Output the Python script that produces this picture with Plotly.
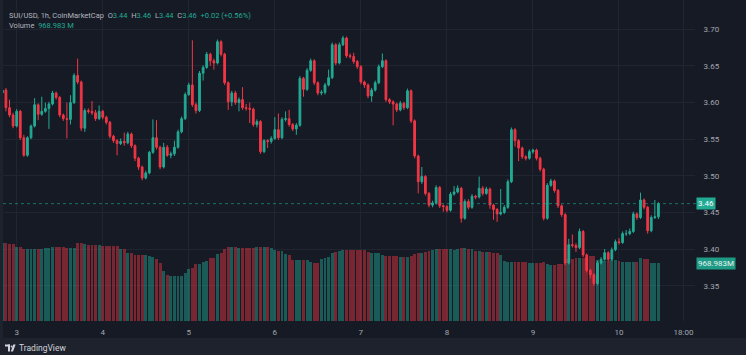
import plotly.graph_objects as go
import pandas as pd

# ---------------- data ----------------
first_candle = "2025-02-02 20:00"
n_candles = 184

opens = [3.613, 3.617, 3.593, 3.583, 3.568, 3.588, 3.552, 3.528, 3.552, 3.568,
         3.597, 3.584, 3.588, 3.592, 3.598, 3.613, 3.607, 3.583, 3.578, 3.577,
         3.600, 3.637, 3.628, 3.565, 3.589, 3.588, 3.586, 3.578, 3.588, 3.580,
         3.573, 3.554, 3.548, 3.544, 3.547, 3.545, 3.557, 3.541, 3.524, 3.512,
         3.497, 3.504, 3.532, 3.552, 3.539, 3.512, 3.539, 3.528, 3.530, 3.539,
         3.560, 3.578, 3.611, 3.624, 3.597, 3.589, 3.640, 3.648, 3.666, 3.657,
         3.654, 3.683, 3.666, 3.627, 3.601, 3.613, 3.600, 3.604, 3.593, 3.592,
         3.591, 3.570, 3.574, 3.533, 3.548, 3.547, 3.551, 3.563, 3.552, 3.577,
         3.578, 3.570, 3.564, 3.569, 3.633, 3.618, 3.644, 3.657, 3.627, 3.613,
         3.614, 3.624, 3.634, 3.679, 3.654, 3.679, 3.688, 3.664, 3.663, 3.656,
         3.649, 3.628, 3.624, 3.609, 3.617, 3.627, 3.649, 3.657, 3.604, 3.601,
         3.598, 3.590, 3.599, 3.593, 3.616, 3.575, 3.527, 3.492, 3.499, 3.476,
         3.460, 3.463, 3.484, 3.459, 3.458, 3.453, 3.475, 3.478, 3.483, 3.442,
         3.465, 3.457, 3.472, 3.471, 3.483, 3.476, 3.482, 3.460, 3.454, 3.448,
         3.450, 3.457, 3.492, 3.563, 3.548, 3.538, 3.526, 3.524, 3.533, 3.535,
         3.524, 3.509, 3.442, 3.487, 3.493, 3.480, 3.459, 3.447, 3.381, 3.406,
         3.405, 3.402, 3.424, 3.392, 3.371, 3.365, 3.353, 3.381, 3.386, 3.395,
         3.386, 3.399, 3.410, 3.409, 3.421, 3.421, 3.424, 3.448, 3.443, 3.467,
         3.457, 3.425, 3.443, 3.444]

closes = [3.617, 3.593, 3.583, 3.568, 3.588, 3.552, 3.528, 3.552, 3.568, 3.597,
          3.584, 3.588, 3.592, 3.598, 3.613, 3.607, 3.583, 3.578, 3.577, 3.600,
          3.637, 3.628, 3.565, 3.589, 3.588, 3.586, 3.578, 3.588, 3.580, 3.573,
          3.554, 3.548, 3.544, 3.547, 3.545, 3.557, 3.541, 3.524, 3.512, 3.497,
          3.504, 3.532, 3.552, 3.539, 3.512, 3.539, 3.528, 3.530, 3.539, 3.560,
          3.578, 3.611, 3.624, 3.597, 3.589, 3.640, 3.648, 3.666, 3.657, 3.654,
          3.683, 3.666, 3.627, 3.601, 3.613, 3.600, 3.604, 3.593, 3.592, 3.591,
          3.570, 3.574, 3.533, 3.548, 3.547, 3.551, 3.563, 3.552, 3.577, 3.578,
          3.570, 3.564, 3.569, 3.633, 3.618, 3.644, 3.657, 3.627, 3.613, 3.614,
          3.624, 3.634, 3.679, 3.654, 3.679, 3.688, 3.664, 3.663, 3.656, 3.649,
          3.628, 3.624, 3.609, 3.617, 3.627, 3.649, 3.657, 3.604, 3.601, 3.598,
          3.590, 3.599, 3.593, 3.616, 3.575, 3.527, 3.492, 3.499, 3.476, 3.460,
          3.463, 3.484, 3.459, 3.458, 3.453, 3.475, 3.478, 3.483, 3.442, 3.465,
          3.457, 3.472, 3.471, 3.483, 3.476, 3.482, 3.460, 3.454, 3.448, 3.450,
          3.457, 3.492, 3.563, 3.548, 3.538, 3.526, 3.524, 3.533, 3.535, 3.524,
          3.509, 3.442, 3.487, 3.493, 3.480, 3.459, 3.447, 3.381, 3.406, 3.405,
          3.402, 3.424, 3.392, 3.371, 3.365, 3.353, 3.381, 3.386, 3.395, 3.386,
          3.399, 3.410, 3.409, 3.421, 3.421, 3.424, 3.448, 3.443, 3.467, 3.457,
          3.425, 3.443, 3.444, 3.462]

highs = [3.620, 3.620, 3.604, 3.586, 3.591, 3.590, 3.556, 3.554, 3.570, 3.606,
         3.599, 3.608, 3.600, 3.601, 3.616, 3.615, 3.609, 3.585, 3.600, 3.610,
         3.640, 3.660, 3.630, 3.592, 3.592, 3.602, 3.590, 3.596, 3.590, 3.582,
         3.575, 3.556, 3.550, 3.551, 3.559, 3.560, 3.559, 3.543, 3.526, 3.514,
         3.507, 3.534, 3.577, 3.576, 3.541, 3.545, 3.542, 3.533, 3.548, 3.563,
         3.581, 3.614, 3.627, 3.685, 3.600, 3.643, 3.651, 3.669, 3.668, 3.660,
         3.686, 3.685, 3.668, 3.629, 3.616, 3.616, 3.607, 3.621, 3.598, 3.600,
         3.593, 3.577, 3.576, 3.550, 3.550, 3.554, 3.580, 3.585, 3.580, 3.588,
         3.590, 3.572, 3.572, 3.636, 3.635, 3.647, 3.660, 3.659, 3.629, 3.617,
         3.627, 3.645, 3.682, 3.681, 3.682, 3.691, 3.690, 3.667, 3.668, 3.658,
         3.651, 3.630, 3.626, 3.620, 3.630, 3.652, 3.667, 3.659, 3.606, 3.603,
         3.600, 3.602, 3.601, 3.619, 3.618, 3.577, 3.529, 3.512, 3.501, 3.478,
         3.466, 3.487, 3.486, 3.461, 3.460, 3.478, 3.486, 3.487, 3.485, 3.468,
         3.468, 3.475, 3.474, 3.499, 3.486, 3.485, 3.484, 3.462, 3.456, 3.482,
         3.460, 3.495, 3.566, 3.565, 3.550, 3.540, 3.528, 3.536, 3.537, 3.537,
         3.526, 3.511, 3.490, 3.496, 3.495, 3.482, 3.461, 3.449, 3.414, 3.420,
         3.408, 3.428, 3.426, 3.394, 3.373, 3.367, 3.384, 3.389, 3.400, 3.397,
         3.402, 3.413, 3.415, 3.424, 3.426, 3.428, 3.451, 3.450, 3.477, 3.469,
         3.459, 3.446, 3.467, 3.464]

lows = [3.610, 3.588, 3.580, 3.565, 3.566, 3.549, 3.526, 3.526, 3.550, 3.566,
        3.576, 3.582, 3.586, 3.564, 3.596, 3.604, 3.580, 3.575, 3.551, 3.570,
        3.598, 3.625, 3.561, 3.560, 3.585, 3.583, 3.575, 3.576, 3.577, 3.570,
        3.551, 3.545, 3.528, 3.542, 3.541, 3.543, 3.538, 3.520, 3.508, 3.494,
        3.495, 3.502, 3.530, 3.536, 3.509, 3.510, 3.526, 3.524, 3.527, 3.537,
        3.558, 3.576, 3.609, 3.594, 3.585, 3.587, 3.630, 3.646, 3.650, 3.645,
        3.652, 3.663, 3.624, 3.590, 3.595, 3.597, 3.588, 3.590, 3.589, 3.572,
        3.567, 3.566, 3.530, 3.531, 3.538, 3.544, 3.549, 3.549, 3.550, 3.574,
        3.567, 3.561, 3.556, 3.567, 3.608, 3.616, 3.642, 3.624, 3.610, 3.610,
        3.611, 3.622, 3.632, 3.651, 3.652, 3.677, 3.661, 3.660, 3.653, 3.646,
        3.625, 3.620, 3.606, 3.601, 3.615, 3.625, 3.647, 3.601, 3.598, 3.569,
        3.587, 3.588, 3.590, 3.591, 3.572, 3.524, 3.476, 3.489, 3.473, 3.457,
        3.457, 3.461, 3.456, 3.451, 3.450, 3.451, 3.473, 3.476, 3.436, 3.440,
        3.454, 3.455, 3.468, 3.469, 3.473, 3.474, 3.455, 3.440, 3.437, 3.446,
        3.448, 3.455, 3.490, 3.540, 3.520, 3.523, 3.521, 3.522, 3.530, 3.521,
        3.506, 3.439, 3.440, 3.485, 3.477, 3.456, 3.444, 3.378, 3.379, 3.402,
        3.396, 3.400, 3.389, 3.368, 3.360, 3.350, 3.351, 3.379, 3.384, 3.383,
        3.384, 3.397, 3.406, 3.407, 3.418, 3.419, 3.422, 3.440, 3.441, 3.454,
        3.421, 3.423, 3.441, 3.441]

volume_m = [1305, 1305, 1300, 1300, 1250, 1240,
            1215, 1210, 1212, 1208, 1210, 1215, 1218,
            1230, 1235, 1240, 1238, 1235, 1232, 1230, 1228,
            1310, 1305, 1295, 1278, 1276, 1272, 1270,
            1262, 1260, 1258, 1256, 1252, 1215, 1205, 1150, 1140,
            1112, 1108, 1106, 1104, 1100, 1075, 1045, 975, 840,
            765, 756, 752, 756, 762, 800, 880, 895, 950, 965,
            990, 1000, 1050, 1065, 1130, 1150, 1215, 1235, 1245, 1250,
            1230, 1226, 1222, 1220, 1225, 1235, 1240, 1238, 1236, 1232,
            1190, 1175, 1170, 1130, 1115, 1030, 1020, 1025, 1030, 1028,
            990, 982, 980, 1040, 1060, 1075, 1150, 1165, 1175,
            1195, 1198, 1200, 1196, 1190, 1188, 1185, 1165, 1150, 1140, 1140,
            1105, 1100, 1098, 1100, 1095, 1080, 1080, 1082, 1085,
            1125, 1140, 1150, 1165, 1175,
            1200, 1205, 1205, 1204, 1206, 1203, 1200, 1205,
            1218, 1220, 1215, 1212,
            1175, 1170, 1165, 1160, 1155, 1150, 1145, 1108,
            1000, 990, 985, 990, 995, 990, 985, 975, 972, 970, 975, 985,
            950, 945, 948, 952, 950, 1040, 1045, 1042,
            1063, 1065, 1060, 1075, 1090, 1085,
            1018, 1015, 1016, 1012, 1018, 1020, 1016,
            990, 992, 988, 990, 992, 1050, 1048, 1045,
            975, 972, 968.983]

price_ticks = [3.35, 3.40, 3.45, 3.50, 3.55, 3.60, 3.65, 3.70]
price_tick_text = ["3.35", "3.40", "3.45", "3.50", "3.55", "3.60", "3.65", "3.70"]
time_ticks = ["2025-02-03 00:00", "2025-02-04 00:00", "2025-02-05 00:00", "2025-02-06 00:00",
              "2025-02-07 00:00", "2025-02-08 00:00", "2025-02-09 00:00", "2025-02-10 00:00",
              "2025-02-10 18:00"]
time_tick_text = ["3", "4", "5", "6", "7", "8", "9", "10", "18:00"]

last_price_label = "3.46"
last_volume_label = "968.983M"

# ---------------- style ----------------
W, H = 746, 355
ML, MR, MT, MB = 3, 51, 0, 34
PW, PH = W - ML - MR, H - MT - MB

UP = "#22ab94"
DOWN = "#f23645"
UP_VOL = "rgba(34,171,148,0.45)"
DOWN_VOL = "rgba(242,54,69,0.45)"
BG = "#161a25"
FRAME = "#1e222d"
GRID = "#212532"
TXT = "#b2b5be"
AXTXT = "#a3a6af"
FONT = "Roboto"


def px(x):
    return (x - ML) / PW


def py(y):
    return (H - MB - y) / PH


times = pd.date_range(first_candle, periods=n_candles, freq="h")
vol_colors = [UP_VOL if c >= o else DOWN_VOL for o, c in zip(opens, closes)]

fig = go.Figure()
fig.add_trace(go.Bar(
    x=times, y=volume_m, marker=dict(color=vol_colors, line=dict(width=0)),
    width=0.82 * 3600 * 1000, yaxis="y", hoverinfo="skip", showlegend=False))
fig.add_trace(go.Candlestick(
    x=times, open=opens, high=highs, low=lows, close=closes, yaxis="y2",
    increasing=dict(line=dict(color=UP, width=1), fillcolor=UP),
    decreasing=dict(line=dict(color=DOWN, width=1), fillcolor=DOWN),
    whiskerwidth=0, showlegend=False))

vol_top = 968.983 * PH / 57.7

fig.update_layout(
    width=W, height=H,
    margin=dict(l=ML, r=MR, t=MT, b=MB, pad=0),
    paper_bgcolor=FRAME, plot_bgcolor=BG,
    font=dict(family=FONT, color=AXTXT, size=8),
    bargap=0, showlegend=False, hovermode=False,
    xaxis=dict(type="date", range=["2025-02-02 20:11", "2025-02-10 21:12"],
               tickmode="array", tickvals=time_ticks, ticktext=time_tick_text,
               showgrid=True, gridcolor=GRID, gridwidth=1, zeroline=False,
               showline=False, ticks="outside", ticklen=3, tickcolor="rgba(0,0,0,0)",
               tickfont=dict(size=8, color=AXTXT),
               rangeslider=dict(visible=False), fixedrange=True),
    yaxis=dict(range=[0, vol_top], visible=False, fixedrange=True),
    yaxis2=dict(overlaying="y", side="right", range=[3.3018, 3.740],
                tickmode="array", tickvals=price_ticks, ticktext=price_tick_text,
                showgrid=True, gridcolor=GRID, gridwidth=1, zeroline=False,
                showline=False, ticks="outside", ticklen=6, tickcolor="rgba(0,0,0,0)",
                tickfont=dict(size=8, color=AXTXT), fixedrange=True),
)

shapes = [
    # chart panel
    dict(type="rect", xref="paper", yref="paper", x0=px(3), x1=px(W + 5),
         y0=py(338), y1=py(-5), fillcolor=BG, line=dict(width=0), layer="below"),
    # last-price dotted line
    dict(type="line", xref="paper", yref="y2", x0=0, x1=px(697), y0=closes[-1], y1=closes[-1],
         line=dict(color="rgba(34,171,148,0.6)", width=1, dash="dot"), layer="above"),
    # TradingView logo (glyph)
    dict(type="rect", xref="paper", yref="paper", x0=px(5), x1=px(10), y0=py(346.5), y1=py(344.5),
         fillcolor="#d1d4dc", line=dict(width=0)),
    dict(type="rect", xref="paper", yref="paper", x0=px(8), x1=px(10), y0=py(351.5), y1=py(344.5),
         fillcolor="#d1d4dc", line=dict(width=0)),
    dict(type="circle", xref="paper", yref="paper", x0=px(10.6), x1=px(12.4), y0=py(347.4), y1=py(345.6),
         fillcolor="#d1d4dc", line=dict(width=0)),
    dict(type="path", xref="paper", yref="paper",
         path=f"M {px(13.2)} {py(344.5)} L {px(15.6)} {py(344.5)} L {px(13.0)} {py(351.5)} L {px(10.8)} {py(351.5)} Z",
         fillcolor="#d1d4dc", line=dict(width=0)),
]
fig.update_layout(shapes=shapes)

G = lambda s: f'<span style="color:{UP}">{s}</span>'
sp = "\u00a0"
header1 = ("SUI/USD, 1h, CoinMarketCap" + sp * 2 + "O" + G("3.44") + sp * 2 + "H" + G("3.46")
           + sp * 2 + "L" + G("3.44") + sp * 2 + "C" + G("3.46") + sp * 2 + G("+0.02 (+0.56%)"))
header2 = "Volume" + sp * 2 + G("968.983 M")

annotations = [
    dict(xref="paper", yref="paper", x=px(7), y=py(15), xanchor="left", yanchor="middle",
         text=header1, showarrow=False, font=dict(size=7.5, color=TXT, family=FONT)),
    dict(xref="paper", yref="paper", x=px(7), y=py(25), xanchor="left", yanchor="middle",
         text=header2, showarrow=False, font=dict(size=7.5, color=TXT, family=FONT)),
    dict(xref="paper", yref="y2", x=px(696), y=closes[-1], xanchor="left", yanchor="middle",
         text=last_price_label, showarrow=False, bgcolor=UP, borderpad=1,
         font=dict(size=8, color="#ffffff", family=FONT)),
    dict(xref="paper", yref="y", x=px(696), y=volume_m[-1], xanchor="left", yanchor="middle",
         text=last_volume_label, showarrow=False, bgcolor="#1f9a85", borderpad=1,
         font=dict(size=8, color="#e8f5f2", family=FONT)),
    dict(xref="paper", yref="paper", x=px(16.5), y=py(348), xanchor="left", yanchor="middle",
         text="TradingView", showarrow=False, font=dict(size=8.5, color="#d1d4dc", family=FONT)),
]
fig.update_layout(annotations=annotations)

fig.write_html("out.html",
               config={"displayModeBar": False, "staticPlot": True},
               post_script="document.body.style.margin='0px';document.body.style.overflow='hidden';")
